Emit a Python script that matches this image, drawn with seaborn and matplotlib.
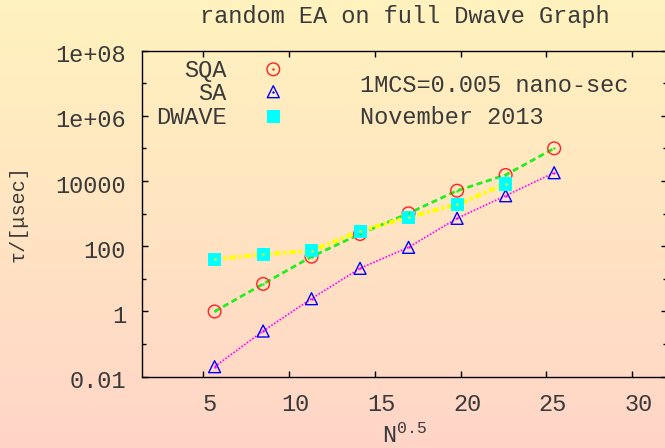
import numpy as np
import matplotlib
matplotlib.use("Agg")
import matplotlib.pyplot as plt
import matplotlib.transforms as mtransforms
from matplotlib.ticker import FixedLocator, NullFormatter, NullLocator
import seaborn as sns

# ---------------- data ----------------
x_sqa = [5.66, 8.49, 11.31, 14.14, 16.97, 19.80, 22.63, 25.46]
y_sqa = [1.0, 7.0, 48, 238, 1030, 5080, 15400, 101000]

x_sa = [5.66, 8.49, 11.31, 14.14, 16.97, 19.80, 22.63, 25.46]
y_sa = [0.0203, 0.252, 2.47, 21.1, 93, 722, 3560, 18100]

x_dw = [5.66, 8.49, 11.31, 14.14, 16.97, 19.80, 22.63]
y_dw = [40, 57, 73, 294, 776, 1940, 8150]

series_names = ["SQA", "SA", "DWAVE"]
xticks = [5, 10, 15, 20, 25, 30]
yticks = [1e-2, 1, 1e2, 1e4, 1e6, 1e8]
ytick_labels = ["0.01", "1", "100", "10000", "1e+06", "1e+08"]
yminor = [1e-1, 1e1, 1e3, 1e5, 1e7]

title = "random EA on full Dwave Graph"
note1 = "1MCS=0.005 nano-sec"
note2 = "November 2013"
xlabel = r"$\mathregular{N^{0.5}}$"
ylabel = "τ/[μsec]"

# ---------------- style ----------------
sns.set_style("ticks")
MONO = "Liberation Mono"
plt.rcParams["font.family"] = [MONO, "DejaVu Sans"]
plt.rcParams["mathtext.fontset"] = "custom"
plt.rcParams["mathtext.rm"] = MONO
FS = 17
TC = "#3a3a3a"

W, H = 665, 448
fig = plt.figure(figsize=(W / 100, H / 100), dpi=100)
fig.patch.set_facecolor("white")


def fx(px):
    return px / W


def fy(py):
    return 1 - py / H


# gradient background
bg = fig.add_axes([0, 0, 1, 1], zorder=-10)
t = np.linspace(0, 1, H)[:, None]
top = np.array([255, 243, 190]) / 255
mid = np.array([255, 228, 194]) / 255
bot = np.array([255, 213, 200]) / 255
col = np.where(t < 0.5, top + (mid - top) * (t / 0.5), mid + (bot - mid) * ((t - 0.5) / 0.5))
img = np.repeat(col[:, None, :], 4, axis=1).reshape(H, 4, 3)
bg.imshow(img, aspect="auto", extent=[0, 1, 0, 1], interpolation="bilinear")
bg.axis("off")

# main axes
L, R, T, B = 142, 667, 50.7, 376.7
ax = fig.add_axes([fx(L), fy(B), (R - L) / W, (B - T) / H])
ax.patch.set_alpha(0)
ax.set_yscale("log")

# lines
sns.lineplot(x=x_sqa, y=y_sqa, ax=ax, color="#22ee22", lw=2.0,
             linestyle=(0, (2.2, 1.3)), errorbar=None, zorder=2)
sns.lineplot(x=x_sa, y=y_sa, ax=ax, color="#ff00ff", lw=1.2,
             linestyle=(0, (1, 1)), errorbar=None, zorder=2)
sns.lineplot(x=x_dw, y=y_dw, ax=ax, color="#ffff00", lw=3.0,
             linestyle=(0, (1.5, 0.7, 0.7, 0.7)), errorbar=None, zorder=2)

# markers
sns.scatterplot(x=x_sqa, y=y_sqa, ax=ax, marker="o", s=83, facecolor="none",
                edgecolor="#ff2020", linewidth=1.0, zorder=3)
sns.scatterplot(x=x_sa, y=y_sa, ax=ax, marker="^", s=74, facecolor="none",
                edgecolor="#0000ff", linewidth=1.0, zorder=3)
sns.scatterplot(x=x_dw, y=y_dw, ax=ax, marker="s", s=88, color="#00ffff",
                edgecolor="none", linewidth=0, zorder=3)
# centre dots
sns.scatterplot(x=x_sqa, y=y_sqa, ax=ax, marker="o", s=3, color="#22ee22", linewidth=0, zorder=4)
sns.scatterplot(x=x_sa, y=y_sa, ax=ax, marker="o", s=3, color="#ff00ff", linewidth=0, zorder=4)
sns.scatterplot(x=x_dw, y=y_dw, ax=ax, marker="o", s=3, color="#ffff00", linewidth=0, zorder=4)

ax.set_xlim(1.426, 32.04)
ax.set_ylim(1e-2, 1e8)
ax.set_xticks(xticks)
ax.set_xticklabels([str(v) for v in xticks])
ax.xaxis.set_minor_locator(NullLocator())
ax.set_yticks(yticks)
ax.set_yticklabels(ytick_labels)
ax.yaxis.set_minor_locator(FixedLocator(yminor))
ax.yaxis.set_minor_formatter(NullFormatter())
ax.set_xlabel("")
ax.set_ylabel("")

for sp in ax.spines.values():
    sp.set_visible(True)
    sp.set_linewidth(1.0)
    sp.set_color("black")

ax.tick_params(which="both", direction="in", top=True, right=True,
               labelsize=FS, pad=11.5, width=1.0, color="black", labelcolor=TC)
ax.tick_params(which="major", length=4.3)
ax.tick_params(which="minor", length=2.9)

dx = mtransforms.ScaledTranslation(6.7 / 100, 0, fig.dpi_scale_trans)
for lab in ax.get_xticklabels():
    lab.set_transform(lab.get_transform() + dx)
dy = mtransforms.ScaledTranslation(0, -2.5 / 100, fig.dpi_scale_trans)
for lab in ax.get_yticklabels():
    lab.set_transform(lab.get_transform() + dy)

# title & labels
fig.text(fx(404.5), fy(23.5), title, ha="center", va="baseline", fontsize=FS, color=TC)
fig.text(fx(404.5), fy(442.5), xlabel, ha="center", va="baseline", fontsize=FS, color=TC)
fig.text(fx(18), fy(213.7), ylabel, ha="center", va="center", rotation=90,
         fontsize=14.5, color=TC)

# annotations
fig.text(fx(360.5), fy(91.5), note1, ha="left", va="baseline", fontsize=FS, color=TC)
fig.text(fx(360.5), fy(124), note2, ha="left", va="baseline", fontsize=FS, color=TC)

# legend (gnuplot style: right-aligned text then marker)
leg_base = [77, 100, 124]
leg_mk_y = [69.3, 91.7, 116.7]
leg_styles = [
    dict(marker="o", s=83, facecolor="none", edgecolor="#ff2020", linewidth=1.0),
    dict(marker="^", s=74, facecolor="none", edgecolor="#0000ff", linewidth=1.0),
    dict(marker="s", s=88, facecolor="#00ffff", edgecolor="none", linewidth=0),
]
dot_cols = ["#ff2020", "#0000ff", "#00ffff"]
for name, yb, ym, st, dc in zip(series_names, leg_base, leg_mk_y, leg_styles, dot_cols):
    fig.text(fx(226.7), fy(yb), name, ha="right", va="baseline", fontsize=FS, color=TC)
    ax.scatter([fx(273.3)], [fy(ym)], transform=fig.transFigure, clip_on=False, zorder=5, **st)
    ax.scatter([fx(273.3)], [fy(ym)], transform=fig.transFigure, clip_on=False, zorder=6,
               marker="o", s=3, color=dc, linewidth=0)

fig.savefig("out.png", dpi=100)
